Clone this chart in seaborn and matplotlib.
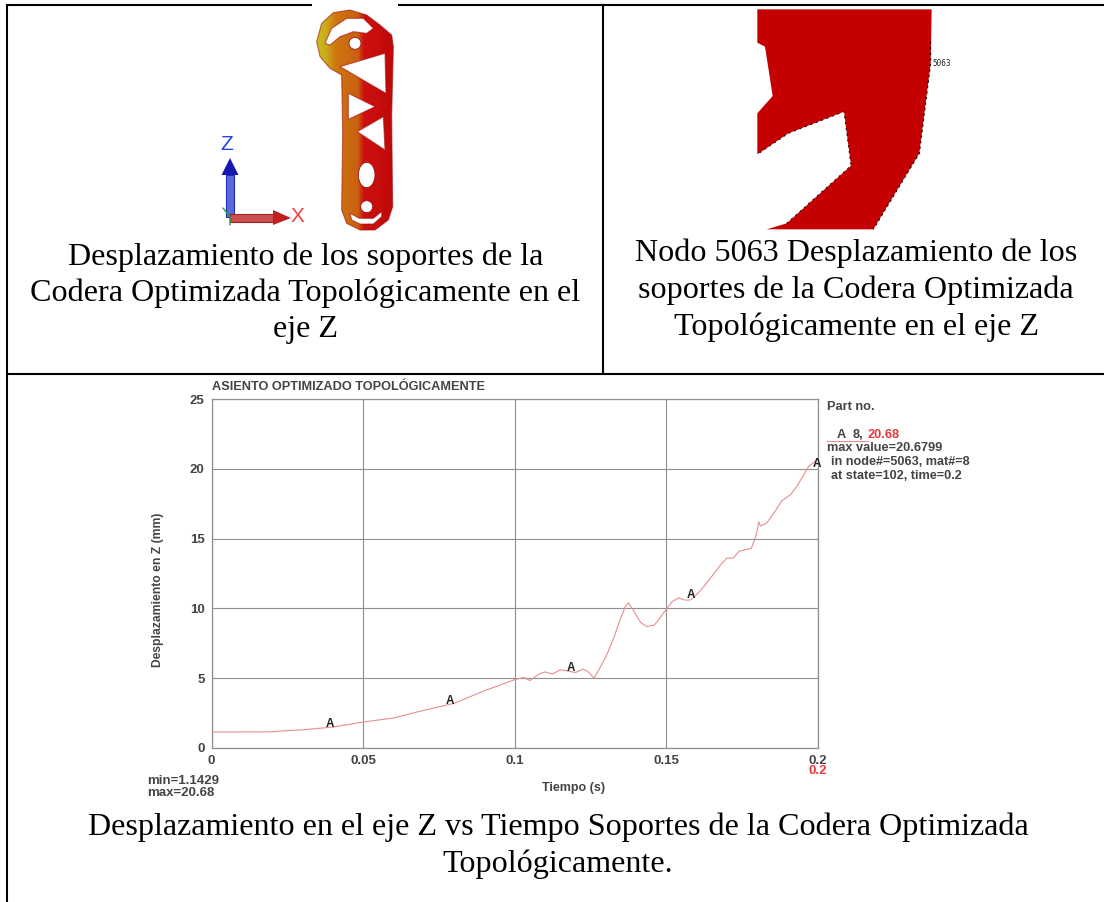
#!/usr/bin/env python3
"""
Tabla de desplazamientos: capturas de la codera y curva Z vs tiempo
"""

import numpy as np
import pandas as pd
import matplotlib
matplotlib.use('Agg')
import matplotlib.pyplot as plt
import seaborn as sns
from matplotlib.colors import LinearSegmentedColormap
from matplotlib.patches import Polygon, Ellipse, PathPatch
from matplotlib.path import Path

# curve
tiempo = [0, 0.02, 0.025, 0.03, 0.04, 0.05, 0.06, 0.07, 0.08, 0.09, 0.1, 0.103, 0.105,
          0.108, 0.11, 0.1125, 0.115, 0.118, 0.12, 0.1225, 0.124, 0.1262, 0.13, 0.1325,
          0.135, 0.1365, 0.1375, 0.139, 0.1415, 0.1435, 0.146, 0.148, 0.15, 0.152, 0.154,
          0.156, 0.158, 0.16, 0.1625, 0.165, 0.168, 0.17, 0.172, 0.174, 0.176, 0.178,
          0.1795, 0.1805, 0.181, 0.183, 0.186, 0.188, 0.191, 0.193, 0.195, 0.197, 0.2]
desplazamiento = [1.14, 1.16, 1.25, 1.3, 1.5, 1.86, 2.15, 2.7, 3.2, 4.1, 4.9, 5.05, 4.83,
                  5.3, 5.45, 5.3, 5.6, 5.5, 5.4, 5.65, 5.5, 5.0, 6.5, 7.8,
                  9.35, 10.15, 10.4, 9.9, 9.0, 8.7, 8.8, 9.35, 9.95, 10.5, 10.75,
                  10.6, 10.6, 11.0, 11.6, 12.3, 13.15, 13.6, 13.6, 14.1, 14.2, 14.3,
                  15.15, 16.2, 15.9, 16.1, 17.0, 17.7, 18.15, 18.75, 19.45, 20.2, 20.68]

marca_x = [0.039, 0.0785, 0.1185, 0.158, 0.1995]
marca_y = [1.75, 3.4, 5.75, 10.95, 20.35]

x_ticks = [0, 0.05, 0.1, 0.15, 0.2]
x_labels = ['0', '0.05', '0.1', '0.15', '0.2']
y_ticks = [0, 5, 10, 15, 20, 25]

caption_izq = ['Desplazamiento de los soportes de la',
               'Codera Optimizada Topológicamente en el', 'eje Z']
caption_der = ['Nodo 5063 Desplazamiento de los',
               'soportes de la Codera Optimizada', 'Topológicamente en el eje Z']
caption_abajo = ['Desplazamiento en el eje Z vs Tiempo Soportes de la Codera Optimizada',
                 'Topológicamente.']

W, H = 1104, 902
SERIF = 'Liberation Serif'
SANS = 'Liberation Sans'
GRIS = '#8f8f8f'
TEXTO = '#444444'
ROJO = '#e83838'

sns.set_theme(style='white')
plt.rcParams['font.family'] = [SANS, 'DejaVu Sans']

fig = plt.figure(figsize=(W / 100, H / 100), dpi=100, facecolor='white')

# whole-figure axes in pixels for the table and the two screenshots
bg = fig.add_axes([0, 0, 1, 1], zorder=0)
bg.axis('off')

# table rules
for xs, ys in [((6, 312), (5, 5)), ((398, W), (5, 5)), ((7, 7), (5, H)),
               ((603, 603), (5, 374)), ((7, W), (374, 374))]:
    bg.plot(xs, ys, color='black', lw=1.5, solid_capstyle='butt')

for txt, y in zip(caption_izq, [265, 301, 337]):
    bg.text(305.5, y, txt, family=SERIF, fontsize=23.1, color='black', ha='center', va='baseline')
for txt, y in zip(caption_der, [261, 298, 335]):
    bg.text(856, y, txt, family=SERIF, fontsize=23.1, color='black', ha='center', va='baseline')
for txt, y in zip(caption_abajo, [835, 872]):
    bg.text(558, y, txt, family=SERIF, fontsize=23.1, color='black', ha='center', va='baseline')


# --- left screenshot: the bracket, traced in zoomed crop coordinates
def z1(pts):
    return [(200 + px / 3, py / 3) for px, py in pts]


def area(p):
    a = np.array(p)
    return np.sum(a[:, 0] * np.roll(a[:, 1], -1) - np.roll(a[:, 0], -1) * a[:, 1])


contorno = [(425, 225), (390, 205), (360, 170), (350, 125), (365, 70), (400, 38), (450, 30),
            (500, 45), (540, 75), (575, 105), (580, 140), (575, 350), (578, 620), (565, 660),
            (525, 690), (480, 690), (440, 670), (425, 630), (428, 400)]
huecos = [
    [(375, 130), (395, 85), (440, 55), (490, 55), (520, 85), (500, 100), (460, 95), (420, 110), (390, 135)],
    [(420, 200), (555, 160), (558, 280)],
    [(445, 280), (525, 320), (445, 358)],
    [(472, 395), (550, 350), (555, 450)],
    [(450, 640), (478, 655), (520, 655), (545, 635), (545, 650), (520, 672), (480, 672), (455, 660)],
]
verts, codes = [], []
for poly in [contorno] + huecos:
    p = z1(poly)
    # holes must run the other way round for the fill rule
    if poly is not contorno and np.sign(area(p)) == np.sign(area(z1(contorno))):
        p = p[::-1]
    verts += p + [p[0]]
    codes += [Path.MOVETO] + [Path.LINETO] * (len(p) - 1) + [Path.CLOSEPOLY]
forma = Path(verts, codes)

cmap = LinearSegmentedColormap.from_list('fringe', ['#c8c020', '#d07810', '#c86010', '#cc1010', '#c00808'])
gx, gy = np.meshgrid(np.linspace(314, 396, 164), np.linspace(5, 235, 230))
heat = np.interp(gx, [316, 326, 338, 358, 364, 395], [0, 0.08, 0.3, 0.5, 0.75, 1])
img = bg.imshow(heat, extent=(314, 396, 235, 5), cmap=cmap, vmin=0, vmax=1, aspect='auto', zorder=2)
clip = PathPatch(forma, transform=bg.transData, fc='none', ec='none')
bg.add_patch(clip)
img.set_clip_path(clip)
bg.add_patch(PathPatch(forma, fc='none', ec='#a01010', lw=0.8, alpha=0.6, zorder=3))
for cx, cy, ax_w, ax_h in [(465, 130, 36, 36), (500, 525, 50, 76), (500, 620, 36, 36)]:
    bg.add_patch(Ellipse((200 + cx / 3, cy / 3), ax_w / 3, ax_h / 3, fc='white', ec='#a01010', lw=0.6, zorder=4))
bg.set_xlim(0, W)
bg.set_ylim(H, 0)

# triad
bg.add_patch(Polygon([(226, 217), (234, 217), (234, 175), (226, 175)], fc='#5868e0', ec='#2030b0', lw=0.8, zorder=5))
bg.add_patch(Polygon([(221.5, 175), (238.5, 175), (230, 158)], fc='#1818b0', ec='none', zorder=5))
bg.add_patch(Polygon([(230, 213.5), (273, 213.5), (273, 222), (230, 222)], fc='#c85050', ec='#a82020', lw=0.8, zorder=5))
bg.add_patch(Polygon([(273, 210), (291, 218), (273, 225)], fc='#c02020', ec='none', zorder=5))
bg.plot([223, 230, 230], [208, 217, 225], color='#20a040', lw=1, zorder=6)
bg.text(226.5, 144, 'Z', color='#2040e8', fontsize=15, ha='center', va='center', zorder=6)
bg.text(297.5, 217, 'X', color='#f04040', fontsize=15, ha='center', va='center', zorder=6)


# --- right screenshot: node close-up
def z2(pts):
    return [(740 + px / 3, py / 3) for px, py in pts]


nodo = [(52, 28), (575, 28), (572, 190), (538, 460), (400, 688), (80, 688), (140, 670), (333, 497),
        (312, 335), (145, 400), (52, 463), (52, 340), (98, 288), (75, 140), (52, 128)]
bg.add_patch(Polygon(z2(nodo), fc='#c40000', ec='none', zorder=2))
borde = z2([(572, 125), (572, 190), (538, 460), (400, 688)])
bg.plot(*zip(*borde), color='black', lw=0.8, ls=(0, (2, 3)), zorder=3)
bg.plot(*zip(*z2([(140, 670), (333, 497), (312, 335), (145, 400), (52, 463)])),
        color='black', lw=0.7, ls=(0, (2, 4)), zorder=3)
bg.text(941.5, 63, '5063', family='DejaVu Sans Mono', fontsize=5.5, color='#222222',
        ha='center', va='center', zorder=4)

# --- the curve
left, right, top, bottom = 211.5, 818, 399, 748
ax = fig.add_axes([left / W, 1 - bottom / H, (right - left) / W, (bottom - top) / H], zorder=2)
ax.patch.set_alpha(0)

curva = pd.DataFrame({'tiempo': tiempo, 'desplazamiento': desplazamiento})
sns.lineplot(data=curva, x='tiempo', y='desplazamiento', ax=ax, color='#e58f8f', lw=0.8,
             estimator=None, zorder=4)

ax.set_xlim(0, 0.2)
ax.set_ylim(0, 25)
ax.set_xticks(x_ticks)
ax.set_xticklabels(x_labels)
ax.set_yticks(y_ticks)
ax.set_xticks([0.025, 0.075, 0.125, 0.175], minor=True)
ax.set_yticks([2.5, 7.5, 12.5, 17.5, 22.5], minor=True)
ax.grid(True, which='major', color=GRIS, lw=0.8)
ax.tick_params(axis='both', which='major', direction='out', length=4, width=0.8, color=GRIS,
               labelsize=9.5, labelcolor=TEXTO, pad=1)
ax.tick_params(axis='both', which='minor', direction='in', length=4, width=0.8, color=GRIS)
for lab in ax.get_xticklabels() + ax.get_yticklabels():
    lab.set_fontweight('bold')
for sp in ax.spines.values():
    sp.set_color(GRIS)
    sp.set_linewidth(0.9)
ax.set_xlabel('')
ax.set_ylabel('')

for mx, my in zip(marca_x, marca_y):
    ax.text(mx, my, 'A', fontsize=8.5, fontweight='bold', color='#222222', ha='center', va='center', zorder=5)

# labels around the plot, in pixels
kw = dict(color=TEXTO, fontweight='bold', va='center', zorder=7)
top_ax = fig.add_axes([0, 0, 1, 1], zorder=3)
top_ax.set_xlim(0, W)
top_ax.set_ylim(H, 0)
top_ax.axis('off')
top_ax.text(211.5, 387, 'ASIENTO OPTIMIZADO TOPOLÓGICAMENTE', fontsize=9.2, ha='left', **kw)
top_ax.text(158, 590, 'Desplazamiento en Z (mm)', fontsize=8.7, ha='center', rotation=90, **kw)
top_ax.text(574, 788, 'Tiempo (s)', fontsize=9, ha='center', **kw)
top_ax.text(147, 781, 'min=1.1429', fontsize=9.5, ha='left', **kw)
top_ax.text(147, 793, 'max=20.68', fontsize=9.5, ha='left', **kw)
top_ax.text(818, 771, '0.2', fontsize=9.5, ha='center', color=ROJO, fontweight='bold', va='center')
top_ax.text(827, 407, 'Part no.', fontsize=9.2, ha='left', **kw)
top_ax.text(837, 435, 'A', fontsize=9.2, ha='left', **kw)
top_ax.text(853, 435, '8,', fontsize=9.2, ha='left', **kw)
top_ax.text(867, 435, '20.68', fontsize=9.2, ha='left', color=ROJO, fontweight='bold', va='center')
top_ax.plot([827, 868], [441, 441], color='#e58f8f', lw=0.8)
top_ax.text(827, 448, 'max value=20.6799', fontsize=9.2, ha='left', **kw)
top_ax.text(831, 462, 'in node#=5063, mat#=8', fontsize=9.1, ha='left', **kw)
top_ax.text(831, 476, 'at state=102, time=0.2', fontsize=9.1, ha='left', **kw)

fig.savefig('out.png', dpi=100, facecolor='white')
